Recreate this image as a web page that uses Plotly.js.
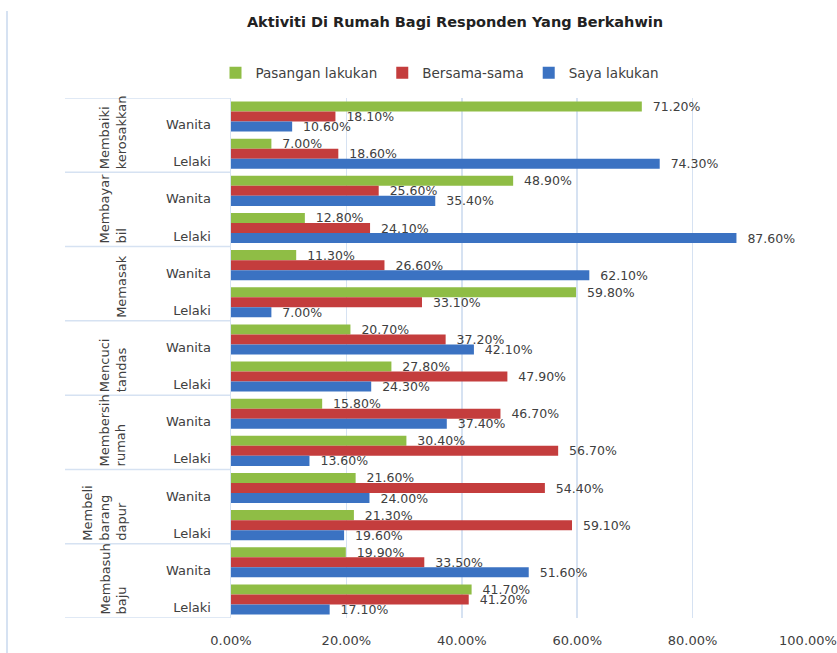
<!DOCTYPE html>
<html>
<head>
<meta charset="utf-8">
<script src="https://cdn.plot.ly/plotly-3.0.1.min.js"></script>
<style>html,body{margin:0;padding:0;background:#fff;}#chart{width:837px;height:653px;}</style>
</head>
<body>
<div id="chart"></div>
<script>
// Activities, top to bottom
const activities = ["Membaiki kerosakkan", "Membayar bil", "Memasak", "Mencuci tandas", "Membersih rumah", "Membeli barang dapur", "Membasuh baju"];
const activityLabels = ["Membaiki<br>kerosakkan", "Membayar<br>bil", "Memasak", "Mencuci<br>tandas", "Membersih<br>rumah", "Membeli<br>barang<br>dapur", "Membasuh<br>baju"];
const genders = ["Wanita", "Lelaki"];
const seriesNames = ["Pasangan lakukan", "Bersama-sama", "Saya lakukan"];
// Values per row (activity x gender), top to bottom
const pasanganLakukan = [71.2, 7.0, 48.9, 12.8, 11.3, 59.8, 20.7, 27.8, 15.8, 30.4, 21.6, 21.3, 19.9, 41.7];
const bersamaSama     = [18.1, 18.6, 25.6, 24.1, 26.6, 33.1, 37.2, 47.9, 46.7, 56.7, 54.4, 59.1, 33.5, 41.2];
const sayaLakukan     = [10.6, 74.3, 35.4, 87.6, 62.1, 7.0, 42.1, 24.3, 37.4, 13.6, 24.0, 19.6, 51.6, 17.1];
const xTicks = [0, 20, 40, 60, 80, 100];
const xTickText = ["0.00%", "20.00%", "40.00%", "60.00%", "80.00%", "100.00%"];

const rowKeys = [], rowText = [];
activities.forEach(a => genders.forEach(g => { rowKeys.push(a + "|" + g); rowText.push(g); }));

const colors = ["#8fbd45", "#c43d3d", "#3b72c2"];
const values = [pasanganLakukan, bersamaSama, sayaLakukan];
const txtColor = "#404040";
const fontFam = "DejaVu Sans, sans-serif";

const traces = seriesNames.map((n, i) => ({
  type: "bar", orientation: "h", name: n,
  x: values[i], y: rowKeys,
  marker: {color: colors[i]},
  texttemplate: "\u00a0\u00a0%{x:.2f}%",
  textposition: "outside",
  constraintext: "none",
  cliponaxis: false,
  textfont: {family: fontFam, size: 12.5, color: txtColor},
  hoverinfo: "skip"
}));

const L = 231, R = 29, T = 98, B = 35, W = 837, H = 653;
const pw = W - L - R, ph = H - T - B;
const px2x = p => (p - L) / pw;
const py2y = p => (H - B - p) / ph;
const lineCol = "#d6e2f2";
const nRows = rowKeys.length;

const shapes = [];
// table dividers
for (let k = 0; k <= activities.length; k++) {
  const yv = 2 * k - 0.5;
  shapes.push({type: "line", xref: "paper", yref: "y", x0: px2x(65), x1: 0, y0: yv, y1: yv,
    line: {color: lineCol, width: 1.5}});
}
// left border
shapes.push({type: "line", xref: "paper", yref: "paper", x0: px2x(7), x1: px2x(7), y0: py2y(653), y1: py2y(11),
  line: {color: lineCol, width: 2}});

const annotations = activities.map((a, k) => ({
  xref: "paper", yref: "y", x: px2x(131), y: 2 * k + 1.5,
  xanchor: "right", yanchor: "bottom", yshift: 1,
  text: activityLabels[k], textangle: -90, align: "left", showarrow: false,
  font: {family: fontFam, size: 13, color: txtColor}
}));

const layout = {
  width: W, height: H,
  margin: {l: L, r: R, t: T, b: B, pad: 0},
  paper_bgcolor: "#fff", plot_bgcolor: "#fff",
  font: {family: fontFam, size: 13, color: txtColor},
  title: {text: "<b>Aktiviti Di Rumah Bagi Responden Yang Berkahwin</b>",
    x: 455 / W, xanchor: "center", y: 1 - 22 / H, yanchor: "middle", yref: "container",
    font: {family: fontFam, size: 14.5, color: "#222"}},
  barmode: "group", bargap: 0.19, bargroupgap: 0,
  showlegend: true,
  legend: {orientation: "h", x: px2x(440), xanchor: "center", y: py2y(73), yanchor: "middle",
    traceorder: "normal", font: {family: fontFam, size: 13.5, color: txtColor}, itemwidth: 30},
  xaxis: {range: [0, 100], tickmode: "array", tickvals: xTicks, ticktext: xTickText,
    showgrid: true, gridcolor: lineCol, gridwidth: 1.5, zeroline: false, showline: false,
    ticks: "", ticklabelstandoff: 13, tickfont: {size: 13, color: txtColor}, fixedrange: true},
  yaxis: {type: "category", categoryorder: "array", categoryarray: rowKeys,
    range: [nRows - 0.5, -0.5], autorange: false,
    tickmode: "array", tickvals: rowKeys, ticktext: rowText, showgrid: false, zeroline: false,
    showline: true, linecolor: lineCol, linewidth: 1.5, ticks: "",
    ticklabelstandoff: 16, ticklabelshift: -8, tickfont: {size: 13, color: txtColor}, fixedrange: true},
  shapes: shapes,
  annotations: annotations
};

Plotly.newPlot("chart", traces, layout, {staticPlot: true, displayModeBar: false});
</script>
</body>
</html>
